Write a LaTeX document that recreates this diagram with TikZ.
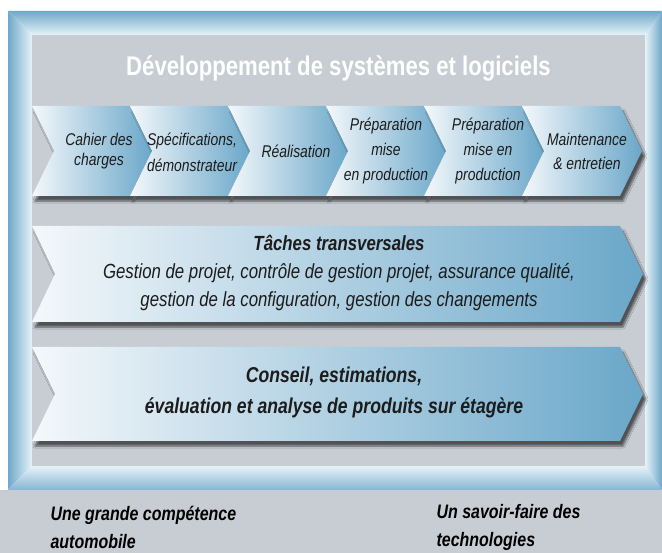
\documentclass[tikz,border=0pt]{standalone}
\usepackage{fontspec}
\setmainfont{Liberation Sans}[FakeStretch=0.82]
\usetikzlibrary{shadows.blur}
\definecolor{framedark}{HTML}{6FA9CA}
\definecolor{framelight}{HTML}{E6F2F8}
\definecolor{panelgray}{HTML}{C8CDD4}
\definecolor{arrowlight}{HTML}{F4F8FB}
\definecolor{arrowdark}{HTML}{6AA7C9}
\definecolor{textdark}{HTML}{1C1C1C}

\begin{document}
\begin{tikzpicture}[x=1pt, y=-1pt,
    chev/.style={left color=arrowlight, right color=arrowdark,
        blur shadow={shadow xshift=3pt, shadow yshift=-5pt, shadow opacity=60, shadow blur steps=6}},
    chevtext/.style={font=\fontsize{17}{24}\selectfont\itshape, align=center, text=textdark},
    bandtext/.style={font=\fontsize{20.5}{28}\selectfont\itshape, align=center, text=textdark},
    bottomtext/.style={font=\fontsize{19.5}{28}\selectfont\bfseries\itshape, align=left, anchor=west, text=black}]
    \useasboundingbox (0,0) rectangle (662,553);
    \fill[white] (0,0) rectangle (662,553);
    \fill[panelgray] (0,490) rectangle (662,553);
    % frame
    \shade[top color=framedark, bottom color=framelight] (8,11) -- (662,11) -- (645,35) -- (32,35) -- cycle;
    \shade[left color=framedark, right color=framelight] (8,11) -- (32,35) -- (32,466) -- (8,490) -- cycle;
    \shade[left color=framelight, right color=framedark] (662,11) -- (645,35) -- (645,466) -- (662,490) -- cycle;
    \shade[top color=framelight, bottom color=framedark!85] (8,490) -- (32,466) -- (645,466) -- (662,490) -- cycle;
    \fill[panelgray] (32,35) rectangle (645,466);

    \node[font=\fontsize{27}{30}\selectfont\bfseries, text=white] (title) at (338.5,68) {Développement de systèmes et logiciels};

    % phases
    \path[chev] (32,106) -- (130,106) -- (152,151) -- (130,196) -- (32,196) -- (54,151) -- cycle;
    \path[chev] (130,106) -- (228,106) -- (250,151) -- (228,196) -- (130,196) -- (152,151) -- cycle;
    \path[chev] (228,106) -- (326,106) -- (348,151) -- (326,196) -- (228,196) -- (250,151) -- cycle;
    \path[chev] (326,106) -- (424,106) -- (446,151) -- (424,196) -- (326,196) -- (348,151) -- cycle;
    \path[chev] (424,106) -- (522,106) -- (544,151) -- (522,196) -- (424,196) -- (446,151) -- cycle;
    \path[chev] (522,106) -- (620,106) -- (642,151) -- (620,196) -- (522,196) -- (544,151) -- cycle;
    \node[chevtext, font=\fontsize{17}{20}\selectfont\itshape] (cahier) at (99,151) {Cahier des\\charges};
    \node[chevtext, font=\fontsize{17}{26}\selectfont\itshape] (specif) at (192,152) {Spécifications,\\démonstrateur};
    \node[chevtext] (realis) at (296,151) {Réalisation};
    \node[chevtext, font=\fontsize{17}{25}\selectfont\itshape] (prepa1) at (386,151) {Préparation\\mise\\en production};
    \node[chevtext, font=\fontsize{17}{25}\selectfont\itshape] (prepa2) at (488,151) {Préparation\\mise en\\production};
    \node[chevtext] (mainten) at (587,151) {Maintenance\\\&~entretien};

    % transversal tasks
    \path[chev] (32,226) -- (620,226) -- (643,274) -- (620,322) -- (32,322) -- (55,274) -- cycle;
    \node[bandtext] (taches) at (339,273) {\textbf{Tâches transversales}\\Gestion de projet, contrôle de gestion projet, assurance qualité,\\gestion de la configuration, gestion des changements};

    % consulting
    \path[chev] (32,347) -- (620,347) -- (643,394) -- (620,441) -- (32,441) -- (55,394) -- cycle;
    \node[bandtext, font=\fontsize{21.5}{31}\selectfont\bfseries\itshape] (conseil) at (334,392) {Conseil, estimations,\\évaluation et analyse de produits sur étagère};

    \node[bottomtext] (auto) at (47,527) {Une grande compétence\\automobile};
    \node[bottomtext] (techno) at (433,527) {Un savoir-faire des\\technologies};
\end{tikzpicture}
\end{document}
